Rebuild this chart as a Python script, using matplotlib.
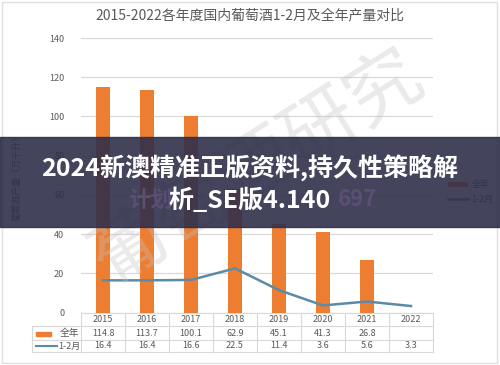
import numpy as np
import matplotlib.pyplot as plt
from matplotlib.patches import Rectangle
from matplotlib.lines import Line2D
from matplotlib.transforms import blended_transform_factory

plt.rcParams['font.family'] = ['Noto Sans CJK SC', 'DejaVu Sans']

years = ['2015', '2016', '2017', '2018', '2019', '2020', '2021', '2022']
full_year = [114.8, 113.7, 100.1, 62.9, 45.1, 41.3, 26.8, None]
jan_feb = [16.4, 16.4, 16.6, 22.5, 11.4, 3.6, 5.6, 3.3]
series_names = ['全年', '1-2月']
title = '2015-2022各年度国内葡萄酒1-2月及全年产量对比'
ylabel = '葡萄酒产量（万千升）'
banner_lines = ['2024新澳精准正版资料,持久性策略解', '析_SE版4.140']

orange = '#ED7D31'
blue = '#5B8BA6'
grey_txt = '#595959'
grid_c = '#D9D9D9'

W, H = 500, 365
fig = plt.figure(figsize=(W / 100, H / 100), dpi=100)
fig.patch.set_facecolor('white')

def fx(px):
    return px / W

def fy(py):
    return 1 - py / H

ax_left, ax_right, ax_top, ax_bot = 81, 433, 38, 312.5
ax = fig.add_axes([fx(ax_left), fy(ax_bot), fx(ax_right - ax_left), (ax_bot - ax_top) / H])
x = np.arange(len(years))
bar_x = [i for i, v in enumerate(full_year) if v is not None]
bar_v = [v for v in full_year if v is not None]
bars = ax.bar(bar_x, bar_v, width=0.3, color=orange, zorder=3)
line, = ax.plot(x, jan_feb, color=blue, lw=1.8, zorder=4)

ax.set_xlim(-0.5, len(years) - 0.5)
ax.set_ylim(0, 140)
ax.set_yticks(range(0, 141, 20))
ax.tick_params(axis='y', length=0, labelsize=6.5, labelcolor=grey_txt, pad=12)
ax.set_xticks([])
ax.grid(axis='y', color=grid_c, lw=0.9, zorder=0)
for s in ax.spines.values():
    s.set_visible(False)

# data table under the axis
tr = blended_transform_factory(ax.transData, fig.transFigure)
lab_left = -0.5 - (ax_left - 32) / 44
row_lines = [312.5, 326, 339.5, 352]
for i, yl in enumerate(row_lines):
    x0 = -0.5 if i == 0 else lab_left
    ax.plot([x0, len(years) - 0.5], [fy(yl)] * 2, transform=tr, color=grid_c,
            lw=0.8, clip_on=False)
for k in range(len(years) + 1):
    ax.plot([k - 0.5] * 2, [fy(312.5), fy(352)], transform=tr, color=grid_c,
            lw=0.8, clip_on=False)
ax.plot([lab_left] * 2, [fy(326), fy(352)], transform=tr, color=grid_c, lw=0.8, clip_on=False)

row_y = [319.5, 333, 346]
for i, yr in enumerate(years):
    ax.text(i, fy(row_y[0]), yr, transform=tr, ha='center', va='center',
            fontsize=6.5, color=grey_txt)
    if full_year[i] is not None:
        ax.text(i, fy(row_y[1]), f'{full_year[i]}', transform=tr, ha='center',
                va='center', fontsize=6.5, color=grey_txt)
    ax.text(i, fy(row_y[2]), f'{jan_feb[i]}', transform=tr, ha='center',
            va='center', fontsize=6.5, color=grey_txt)

fig.patches.append(Rectangle((fx(36), fy(335.5)), fx(15), 4 / H, color=orange,
                             transform=fig.transFigure))
fig.lines.append(Line2D([fx(36), fx(57)], [fy(346)] * 2, color=blue, lw=1.5,
                        transform=fig.transFigure))
fig.text(fx(60), fy(row_y[1]), series_names[0], fontsize=7, color=grey_txt, va='center')
fig.text(fx(58), fy(row_y[2]), series_names[1], fontsize=6.5, color=grey_txt, va='center')

fig.text(0.5, fy(15), title, ha='center', va='center', fontsize=10, color=grey_txt)
fig.text(fx(17), fy(176), ylabel, rotation=90, ha='center', va='center',
         fontsize=6.5, color=grey_txt)

ax.legend([bars, line], series_names, loc='center left',
          bbox_to_anchor=(fx(440), fy(192)), bbox_transform=fig.transFigure,
          frameon=False, fontsize=6.5, labelcolor=grey_txt, handlelength=2.2,
          handleheight=0.5, labelspacing=0.6, handletextpad=0.4)

# watermark
fig.text(fx(258), fy(168), '葡萄酒研究', rotation=32, ha='center', va='center',
         fontsize=54, color='#C4C4C4', alpha=0.35, zorder=5)

# border
fig.patches.append(Rectangle((fx(2), fy(363)), fx(495), 361 / H, fill=False,
                             ec='#E0E0E0', lw=1, transform=fig.transFigure))

# dark banner
fig.patches.append(Rectangle((0, fy(227)), 1, 90 / H, color='#2F2F4A', alpha=0.9,
                             transform=fig.transFigure, zorder=10))
fig.text(fx(150), fy(200), '计划', ha='center', va='center', fontsize=16,
         fontweight='bold', color='#5A4E72', zorder=11)
fig.text(fx(358), fy(200), '697', ha='center', va='center', fontsize=16,
         fontweight='bold', color='#5A4E72', zorder=11)
fig.text(0.5, fy(168), banner_lines[0], ha='center', va='center', fontsize=18,
         fontweight='bold', color='white', zorder=12)
fig.text(0.5, fy(200), banner_lines[1], ha='center', va='center', fontsize=18,
         fontweight='bold', color='white', zorder=12)

fig.savefig('out.png', dpi=100)
